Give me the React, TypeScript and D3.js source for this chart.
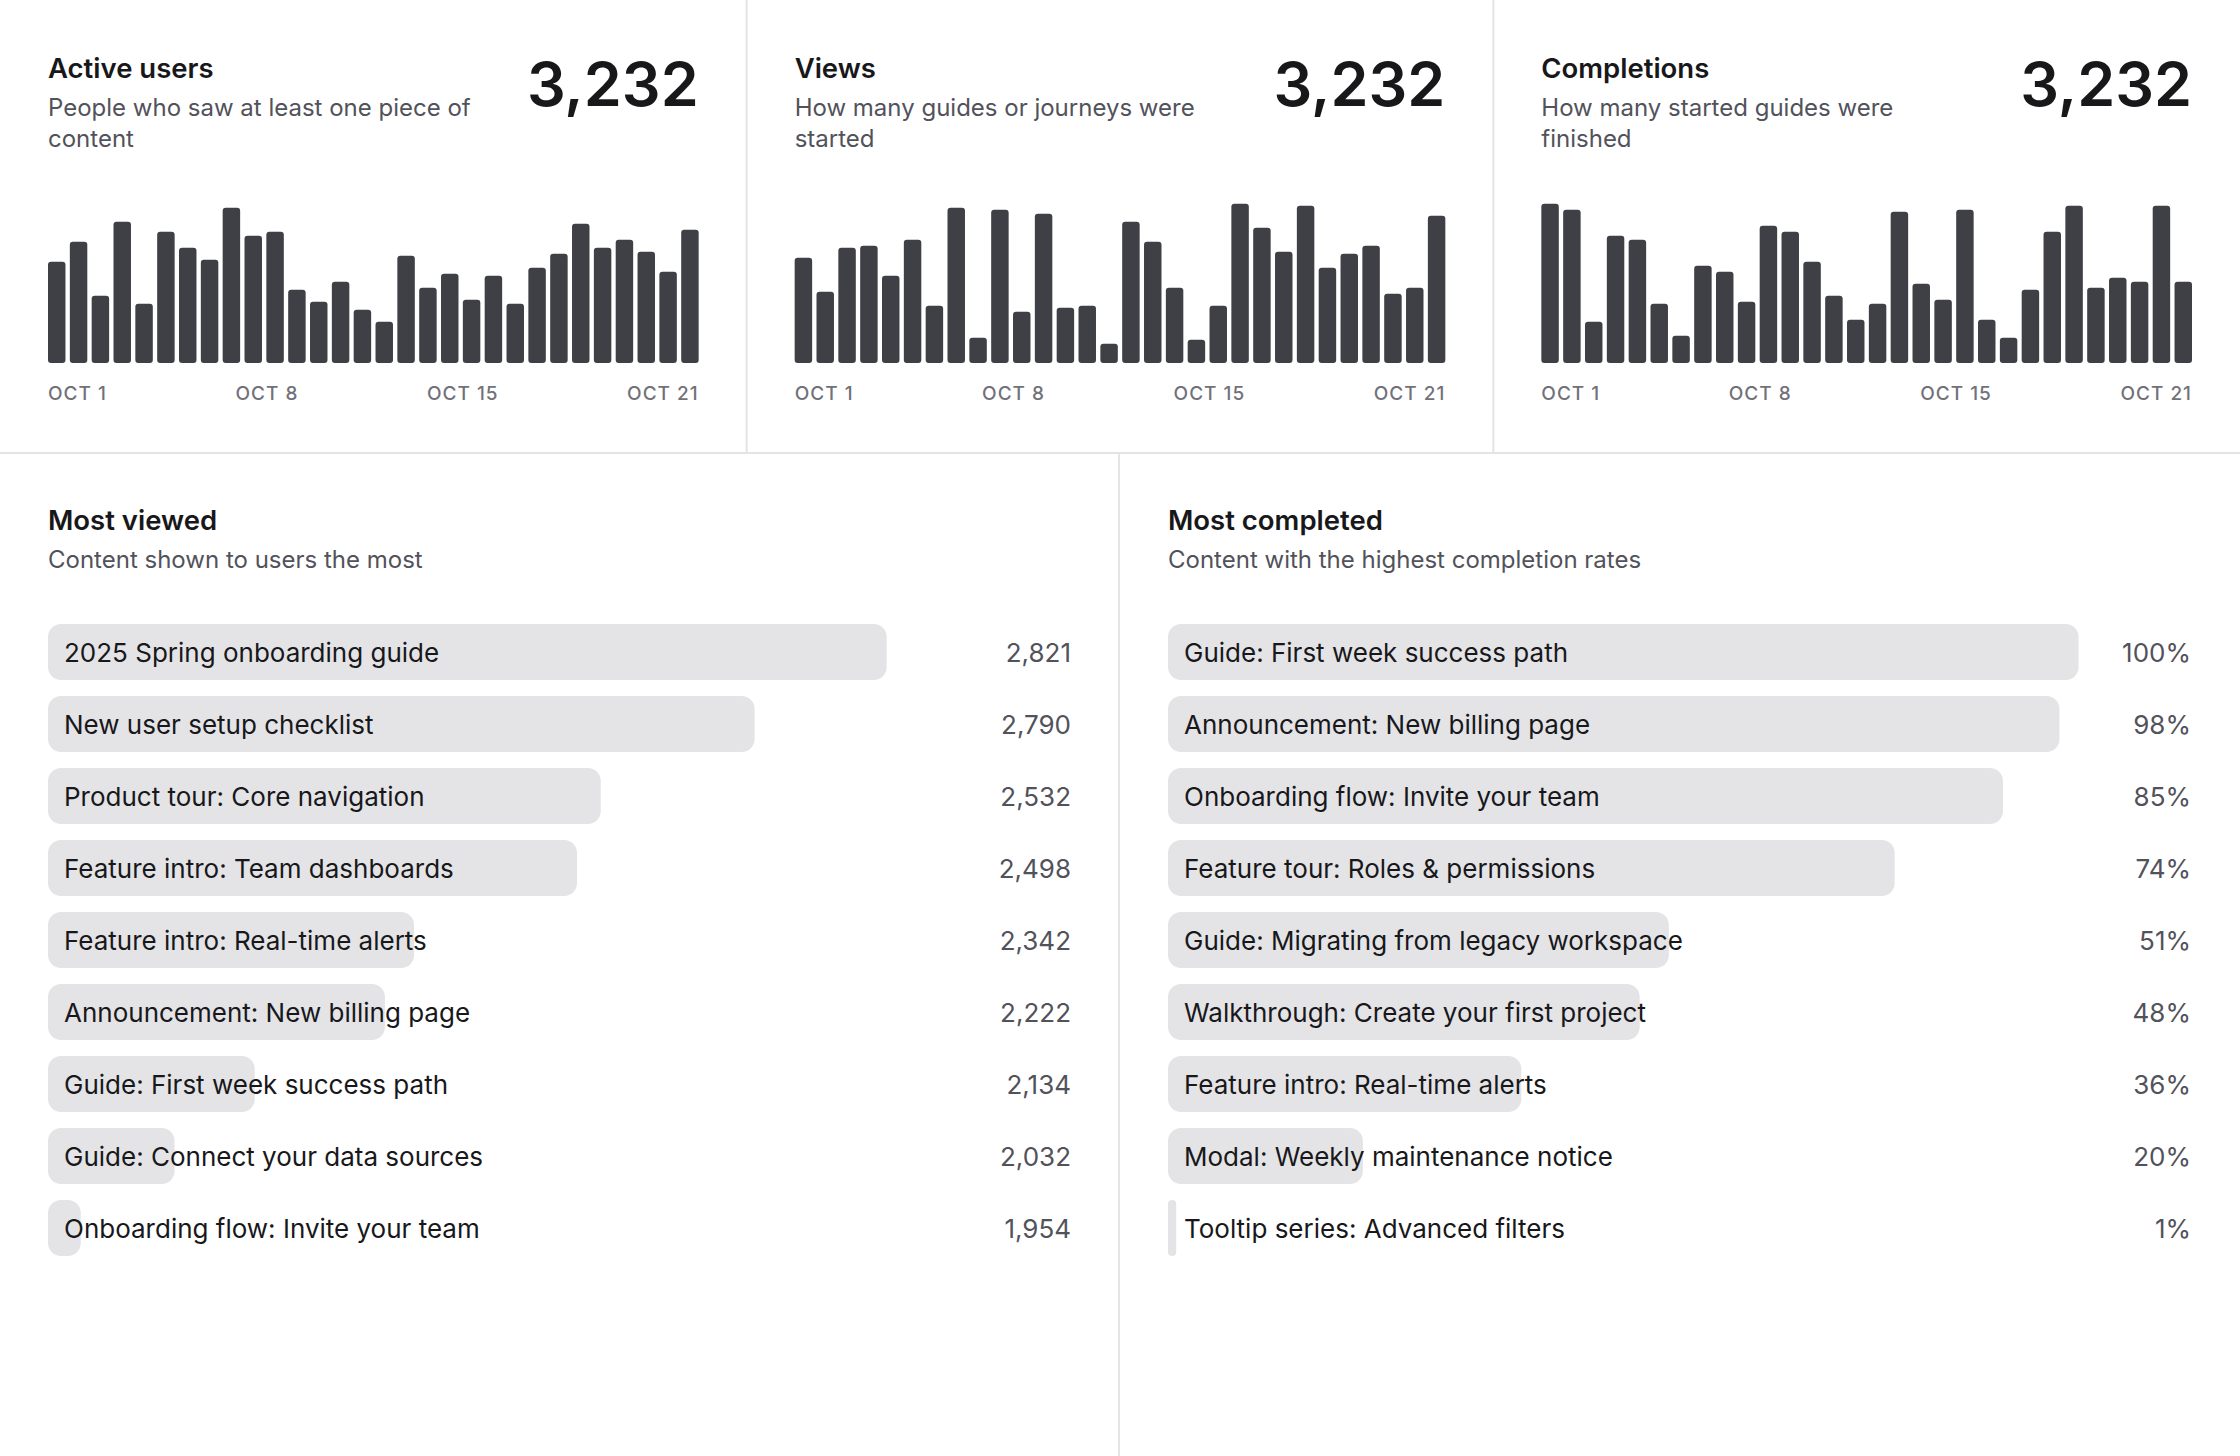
import React, { useEffect, useRef } from 'react';
import * as d3 from 'd3';

const W = 2240;
const H = 1456;
const FONT = 'Inter, "Noto Sans", "DejaVu Sans", sans-serif';

// ---- KPI panels (daily bars, Oct 1 – Oct 30) ----
const activeUsers = [304, 364, 202, 424, 178, 394, 346, 310, 466, 382, 394, 220, 184, 244, 160, 124, 322, 226, 268, 190, 262, 178, 286, 328, 418, 346, 370, 334, 274, 400];
const views = [316, 214, 346, 352, 262, 370, 172, 466, 76, 460, 154, 448, 166, 172, 58, 424, 364, 226, 70, 172, 478, 406, 334, 472, 286, 328, 352, 208, 226, 442];
const completions = [478, 460, 124, 382, 370, 178, 82, 292, 274, 184, 412, 394, 304, 202, 130, 178, 454, 238, 190, 460, 130, 76, 220, 394, 472, 226, 256, 244, 472, 244];
const dayTickLabels = ['OCT 1', 'OCT 8', 'OCT 15', 'OCT 21'];
const kpiTitles = ['Active users', 'Views', 'Completions'];
const kpiSubtitles = [
  ['People who saw at least one piece of', 'content'],
  ['How many guides or journeys were', 'started'],
  ['How many started guides were', 'finished'],
];
const kpiTotals = ['3,232', '3,232', '3,232'];
const kpiSeries = [activeUsers, views, completions];

// ---- Most viewed ----
const viewedNames = [
  '2025 Spring onboarding guide',
  'New user setup checklist',
  'Product tour: Core navigation',
  'Feature intro: Team dashboards',
  'Feature intro: Real-time alerts',
  'Announcement: New billing page',
  'Guide: First week success path',
  'Guide: Connect your data sources',
  'Onboarding flow: Invite your team',
];
const viewedCounts = [2821, 2790, 2532, 2498, 2342, 2222, 2134, 2032, 1954];
const viewedBarShare = [92.1, 77.6, 60.7, 58.1, 40.2, 37.0, 22.7, 13.9, 3.6];

// ---- Most completed ----
const completedNames = [
  'Guide: First week success path',
  'Announcement: New billing page',
  'Onboarding flow: Invite your team',
  'Feature tour: Roles & permissions',
  'Guide: Migrating from legacy workspace',
  'Walkthrough: Create your first project',
  'Feature intro: Real-time alerts',
  'Modal: Weekly maintenance notice',
  'Tooltip series: Advanced filters',
];
const completedRates = [100, 98, 85, 74, 51, 48, 36, 20, 1];
const completedBarShare = [100, 97.9, 91.7, 79.8, 55.0, 51.8, 38.8, 21.4, 0.9];

const C_TEXT = '#18181b';
const C_SUB = '#52525b';
const C_AXIS = '#71717a';
const C_BAR = '#3f3f46';
const C_TRACK = '#e4e4e7';
const C_RULE = '#e4e4e7';

export default function App() {
  const ref = useRef<SVGSVGElement | null>(null);

  useEffect(() => {
    document.body.style.margin = '0';
    const svg = d3.select(ref.current);
    svg.selectAll('*').remove();
    svg.append('rect').attr('width', W).attr('height', H).attr('fill', '#ffffff');

    // ---------- top KPI panels ----------
    const panelW = W / 3;
    kpiSeries.forEach((series, i) => {
      const x0 = i * panelW;
      const left = x0 + 48;
      const right = x0 + panelW - 48;
      const g = svg.append('g');

      g.append('text')
        .attr('x', left).attr('y', 78)
        .attr('font-family', FONT).attr('font-size', 27.5).attr('font-weight', 600)
        .attr('fill', C_TEXT).text(kpiTitles[i]);

      kpiSubtitles[i].forEach((line, j) => {
        g.append('text')
          .attr('x', left).attr('y', 116 + j * 31)
          .attr('font-family', FONT).attr('font-size', 24).attr('font-weight', 400)
          .attr('fill', C_SUB).text(line);
      });

      g.append('text')
        .attr('x', right).attr('y', 106)
        .attr('text-anchor', 'end')
        .attr('font-family', FONT).attr('font-size', 61).attr('font-weight', 600)
        .attr('fill', C_TEXT).text(kpiTotals[i]);

      const x = d3.scaleBand<number>()
        .domain(d3.range(series.length))
        .range([left, right])
        .paddingInner(0.2)
        .paddingOuter(0);
      const y = d3.scaleLinear().domain([0, 480]).range([363, 203]);

      g.selectAll('rect.day')
        .data(series)
        .join('rect')
        .attr('class', 'day')
        .attr('x', (_d, k) => x(k) as number)
        .attr('y', (d) => y(d))
        .attr('width', x.bandwidth())
        .attr('height', (d) => y(0) - y(d))
        .attr('rx', 3)
        .attr('fill', C_BAR);

      // tick labels spread with "space-between"
      const labels = g.selectAll('text.tick')
        .data(dayTickLabels)
        .join('text')
        .attr('class', 'tick')
        .attr('y', 400)
        .attr('font-family', FONT).attr('font-size', 19).attr('font-weight', 500)
        .attr('letter-spacing', 1)
        .attr('fill', C_AXIS)
        .text((d) => d);
      const widths: number[] = [];
      labels.each(function () {
        widths.push((this as SVGTextElement).getComputedTextLength());
      });
      const total = d3.sum(widths);
      const gap = (right - left - total) / (dayTickLabels.length - 1);
      let cx = left;
      const xs: number[] = [];
      widths.forEach((w) => { xs.push(cx); cx += w + gap; });
      labels.attr('x', (_d, k) => xs[k]);
    });

    // rules
    svg.append('line').attr('x1', 0).attr('x2', W).attr('y1', 453).attr('y2', 453)
      .attr('stroke', C_RULE).attr('stroke-width', 2);
    [1, 2].forEach((k) => {
      svg.append('line').attr('x1', k * panelW).attr('x2', k * panelW).attr('y1', 0).attr('y2', 453)
        .attr('stroke', C_RULE).attr('stroke-width', 2);
    });
    svg.append('line').attr('x1', 1119).attr('x2', 1119).attr('y1', 454).attr('y2', H)
      .attr('stroke', '#dcdce0').attr('stroke-width', 1.5);

    // ---------- bottom ranking panels ----------
    const lists = [
      { title: 'Most viewed', sub: 'Content shown to users the most', names: viewedNames, share: viewedBarShare, values: viewedCounts.map((v) => d3.format(',')(v)) },
      { title: 'Most completed', sub: 'Content with the highest completion rates', names: completedNames, share: completedBarShare, values: completedRates.map((v) => `${v}%`) },
    ];
    lists.forEach((L, i) => {
      const x0 = i * 1120;
      const left = x0 + 48;
      const valueRight = x0 + 1120 - 49;
      const g = svg.append('g');

      g.append('text')
        .attr('x', left).attr('y', 530)
        .attr('font-family', FONT).attr('font-size', 27.5).attr('font-weight', 600)
        .attr('fill', C_TEXT).text(L.title);
      g.append('text')
        .attr('x', left).attr('y', 568)
        .attr('font-family', FONT).attr('font-size', 24).attr('font-weight', 400)
        .attr('fill', C_SUB).text(L.sub);

      const yb = d3.scaleBand<number>()
        .domain(d3.range(L.names.length))
        .range([624, 624 + 8 * 72 + 56])
        .paddingInner(16 / 72)
        .paddingOuter(0);
      const xl = d3.scaleLinear().domain([0, 100]).range([0, 910.6]);

      const rows = g.selectAll('g.row')
        .data(L.names.map((n, k) => ({ n, s: L.share[k], v: L.values[k], k })))
        .join('g')
        .attr('class', 'row')
        .attr('transform', (d) => `translate(0,${yb(d.k)})`);

      rows.append('rect')
        .attr('x', left)
        .attr('y', 0)
        .attr('width', (d) => Math.max(xl(d.s), 8))
        .attr('height', yb.bandwidth())
        .attr('rx', (d) => Math.min(13, Math.max(xl(d.s), 8) / 2))
        .attr('fill', C_TRACK);

      rows.append('text')
        .attr('x', left + 16)
        .attr('y', yb.bandwidth() / 2 + 9.5)
        .attr('font-family', FONT).attr('font-size', 26).attr('font-weight', 400)
        .attr('fill', C_TEXT)
        .text((d) => d.n);

      rows.append('text')
        .attr('x', valueRight)
        .attr('y', yb.bandwidth() / 2 + 9.5)
        .attr('text-anchor', 'end')
        .attr('font-family', FONT).attr('font-size', 26).attr('font-weight', 400)
        .attr('fill', C_SUB)
        .text((d) => d.v);
    });
  }, []);

  return (
    <svg
      ref={ref}
      width={W}
      height={H}
      viewBox={`0 0 ${W} ${H}`}
      style={{ position: 'absolute', left: 0, top: 0, display: 'block' }}
    />
  );
}
